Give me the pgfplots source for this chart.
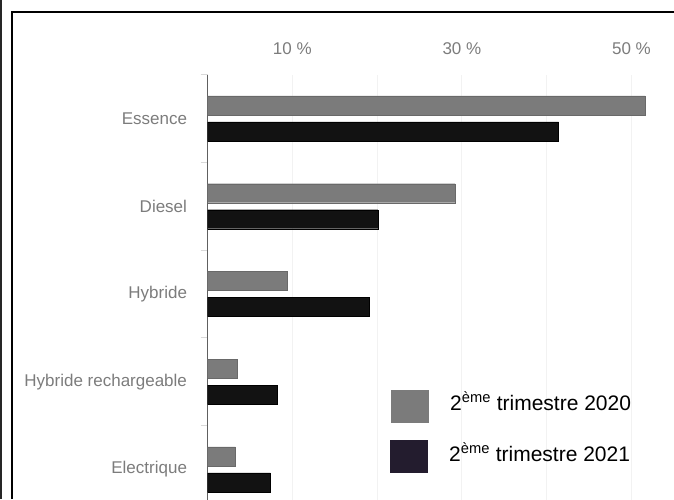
\documentclass[border=0pt]{standalone}
\usepackage{fontspec}
\setmainfont{Liberation Sans}
\usepackage{pgfplots}
\pgfplotsset{compat=1.18}
\definecolor{g20}{HTML}{7B7B7B}
\definecolor{b21}{HTML}{121212}
\definecolor{lg}{HTML}{231C2E}
\definecolor{txt}{HTML}{7C7C7C}
\definecolor{grd}{HTML}{F2F2F2}

\begin{document}
\begin{tikzpicture}[x=1pt,y=1pt]
\useasboundingbox (0,0) rectangle (674,499);
\clip (0,0) rectangle (674,499);
\begin{axis}[
    at={(207.5pt,424.4pt)}, anchor=north west,
    scale only axis, width=466.4pt, height=438.75pt,
    xmin=0, xmax=55, ymin=-0.5, ymax=4.5,
    xbar, bar width=19pt,
    axis x line*=top, axis y line*=left,
    x axis line style={draw=none},
    y axis line style={draw=gray!75!black, line width=1.4pt},
    xtick={0,10,20,30,40,50},
    xticklabels={,10 \%,,30 \%,,50 \%},
    ytick={0,1,2,3,4},
    yticklabels={Electrique,Hybride rechargeable,Hybride,Diesel,Essence},
    minor ytick={-0.5,0.5,1.5,2.5,3.5,4.5},
    major tick length=0pt, minor tick length=7pt,
    tick align=outside,
    minor tick style={draw=gray!30, line width=1pt},
    xmajorgrids, major grid style={draw=grd, line width=1pt},
    ticklabel style={font=\fontsize{17}{19}\selectfont, text=txt},
    yticklabel style={anchor=east, xshift=-17pt},
    xticklabel style={anchor=south, yshift=16pt},
]
\addplot[fill=g20, draw=g20!85!black, bar shift=13pt]
    coordinates {(51.6,4) (29.2,3) (9.4,2) (3.5,1) (3.3,0)};
\addplot[fill=b21, draw=black, bar shift=-13pt]
    coordinates {(41.4,4) (20.1,3) (19.1,2) (8.2,1) (7.4,0)};
\end{axis}

% legend
\fill[g20] (391,76) rectangle (429,109);
\fill[lg] (390,26) rectangle (428,59);
\node[anchor=base west, inner sep=0, font=\fontsize{21}{23}\selectfont] at (450,89) {2\textsuperscript{ème} trimestre 2020};
\node[anchor=base west, inner sep=0, font=\fontsize{21}{23}\selectfont] at (449,38) {2\textsuperscript{ème} trimestre 2021};

% frame
\draw[line width=2pt] (12,0) -- (12,486.5) -- (674,486.5);
\draw[line width=1.5pt, black!85] (0.75,0) -- (0.75,499);
\end{tikzpicture}
\end{document}
